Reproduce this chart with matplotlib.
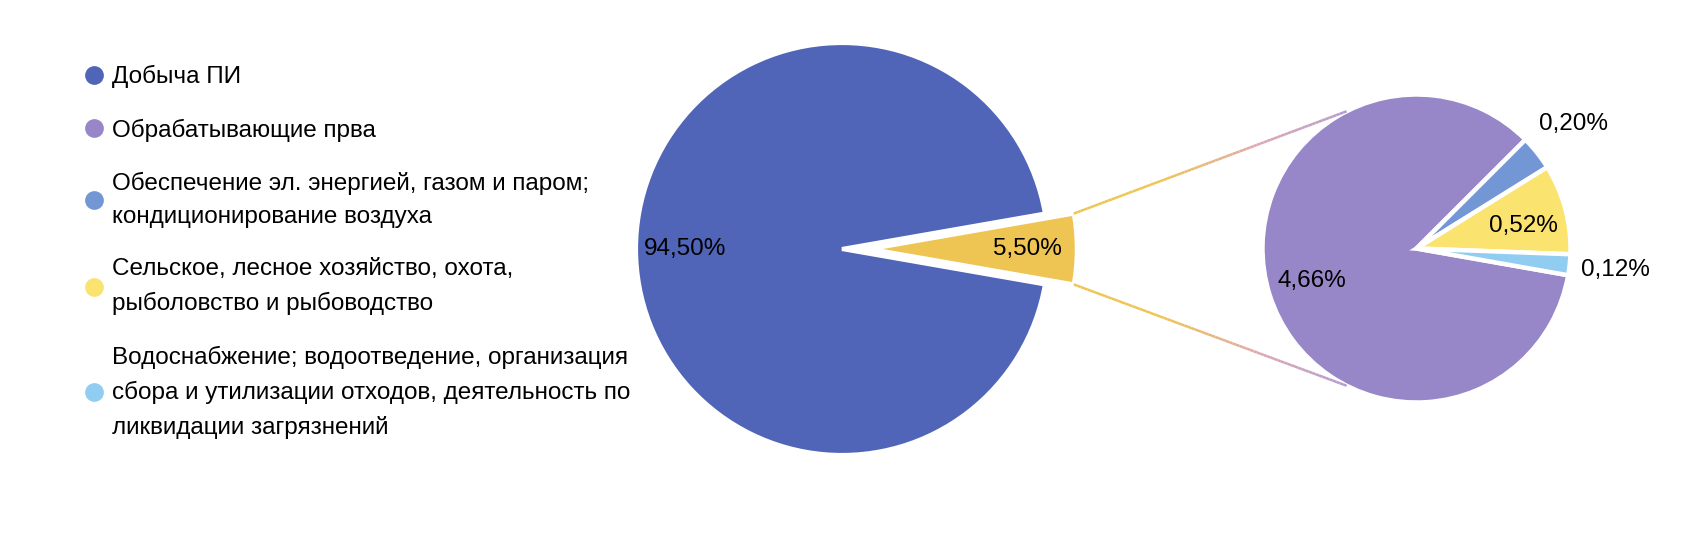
import numpy as np
import matplotlib
matplotlib.use("Agg")
import matplotlib.pyplot as plt
from matplotlib.collections import LineCollection
from matplotlib.colors import LinearSegmentedColormap
from matplotlib.lines import Line2D

plt.rcParams['font.family'] = ['Liberation Sans', 'DejaVu Sans']

# legend categories (in legend order)
categories = [
    "Добыча ПИ",
    "Обрабатывающие прва",
    "Обеспечение эл. энергией, газом и паром;\nкондиционирование воздуха",
    "Сельское, лесное хозяйство, охота,\nрыболовство и рыбоводство",
    "Водоснабжение; водоотведение, организация\nсбора и утилизации отходов, деятельность по\nликвидации загрязнений",
]
colors = ["#5064B8", "#9787C8", "#7396D5", "#FAE36F", "#90CDF0"]

# main pie: mining vs everything else
main_values = [94.50, 5.50]
main_colors = ["#5064B8", "#EEC453"]

# breakdown of the "everything else" slice (percent of total)
other_values = [4.66, 0.20, 0.52, 0.12]
other_colors = colors[1:]

FS = 17.5


def fmt(p):
    return f"{p:.2f}%".replace(".", ",")


W, H = 1695, 534
fig = plt.figure(figsize=(W / 100, H / 100), dpi=100)


def pie_axes(cx, cy, r, half):
    """axes centred on pixel (cx, cy), pie radius r px"""
    ax = fig.add_axes([(cx - half) / W, (H - cy - half) / H, 2 * half / W, 2 * half / H])
    lim = half / r
    return ax, lim


ax1, lim1 = pie_axes(842, 249, 206, 250)
wedges1, _, autotexts1 = ax1.pie(
    main_values, colors=main_colors, counterclock=False,
    startangle=-main_values[1] / sum(main_values) * 180,
    explode=[0, 0.14], autopct=fmt, pctdistance=0.76,
    wedgeprops=dict(edgecolor="white", linewidth=3))
for t in autotexts1:
    t.set_fontsize(FS)
ax1.set_xlim(-lim1, lim1)
ax1.set_ylim(-lim1, lim1)
ax1.set_aspect("equal")
ax1.axis("off")

ax2, lim2 = pie_axes(1416.5, 248.5, 154, 200)
wedges2, _ = ax2.pie(
    other_values, colors=other_colors, counterclock=False, startangle=350,
    wedgeprops=dict(edgecolor="white", linewidth=3.2))
ax2.set_xlim(-lim2, lim2)
ax2.set_ylim(-lim2, lim2)
ax2.set_aspect("equal")
ax2.axis("off")

# value labels on the second pie: big slices inside, small ones outside
for w, v in zip(wedges2, other_values):
    mid = np.deg2rad((w.theta1 + w.theta2) / 2 - (3 if v > 0.4 and v < 1 else 0))
    d = 0.71 if v > 0.4 else 1.3
    ax2.text(d * np.cos(mid), d * np.sin(mid), fmt(v),
             ha="center", va="center", fontsize=FS)

# gradient connector lines from the exploded slice to the second pie
cmap = LinearSegmentedColormap.from_list("conn", ["#EEC453", "#EEC453", "#DEA8B0", "#B59AD2"])
yw = wedges1[1]
for theta, end_ang in [(yw.theta2, 117), (yw.theta1, -117)]:
    a = np.deg2rad(theta)
    p0 = np.array(yw.center) + np.array([np.cos(a), np.sin(a)])
    b = np.deg2rad(end_ang)
    p1 = np.array([np.cos(b), np.sin(b)])
    d0 = ax1.transData.transform(p0)
    d1 = ax2.transData.transform(p1)
    f0 = fig.transFigure.inverted().transform(d0)
    f1 = fig.transFigure.inverted().transform(d1)
    t = np.linspace(0, 1, 80)
    pts = f0[None, :] + (f1 - f0)[None, :] * t[:, None]
    segs = np.stack([pts[:-1], pts[1:]], axis=1)
    lc = LineCollection(segs, colors=cmap(t[:-1]), linewidths=1.8,
                        transform=fig.transFigure)
    fig.add_artist(lc)

# legend
handles = [Line2D([], [], marker="o", linestyle="", markersize=13.5,
                  markerfacecolor=c, markeredgecolor="none") for c in colors]
leg = fig.legend(handles, categories, loc="upper left",
                 bbox_to_anchor=(73 / W, 1 - 53 / H), frameon=False,
                 fontsize=FS, handlelength=0.75, handletextpad=0.35,
                 labelspacing=1.24, borderpad=0)
for t in leg.get_texts():
    t.set_linespacing(1.66)

fig.savefig("out.png", dpi=100, facecolor="white")
